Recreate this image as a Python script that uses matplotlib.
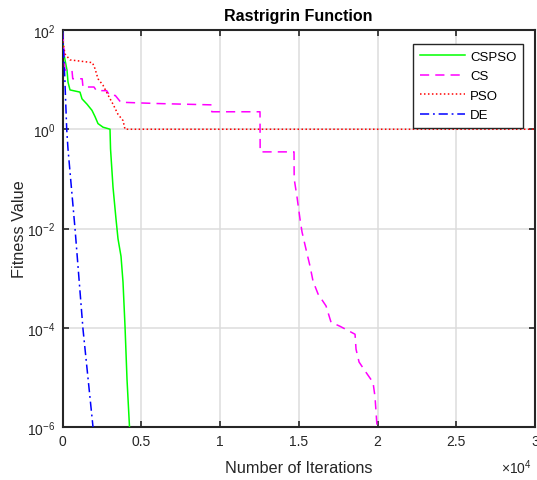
import matplotlib
matplotlib.use("Agg")
import matplotlib.pyplot as plt
import numpy as np

plt.rcParams['font.family'] = ['Liberation Sans', 'DejaVu Sans']
plt.rcParams['mathtext.default'] = 'regular'

# ---- data ----
cspso_iter = [0, 32, 159, 286, 350, 476, 1111, 1238, 1556, 1873, 2064, 2254, 2572, 2889, 3016,
              3050, 3207, 3397, 3524, 3715, 3842, 3969, 4096, 4254, 4300]
cspso_val = [100, 42, 25, 15.5, 8.9, 6.2, 5.6, 4.1, 3.2, 2.4, 1.8, 1.3, 1.1, 1.03, 1.0,
             0.4, 0.068, 0.0155, 0.0062, 0.00275, 0.00083, 0.000107, 0.0000091, 1e-6, 1e-7]

cs_iter = [0, 60, 150, 600, 650, 1250, 1300, 2000, 2150, 2800, 3000, 3350, 3700, 6000, 9475, 9480,
           12540, 12550, 14700, 14710, 14890, 15080, 15208, 15462, 15716, 15906, 16224, 16732,
           17050, 17621, 18574, 18637, 18828, 19272, 19717, 19844, 19971, 20000]
cs_val = [90, 57, 15.6, 15.6, 10.4, 10.4, 7.1, 7.1, 6.0, 6.0, 4.8, 4.8, 3.5, 3.3, 3.1, 2.25,
          2.25, 0.35, 0.35, 0.1, 0.043, 0.0155, 0.0085, 0.0038, 0.00174, 0.00087, 0.00048, 0.000275,
          0.000129, 0.000107, 0.000074, 0.000037, 0.0000204, 0.0000126, 0.0000079, 0.000004, 1e-6, 1e-7]

pso_iter = [0, 32, 159, 476, 1900, 2064, 2254, 2572, 2889, 3207, 3524, 3842, 3969, 30000]
pso_val = [100, 57, 33, 25, 22, 16.6, 10.4, 7.7, 4.9, 3.2, 2.0, 1.5, 1.0, 1.0]

de_iter = [0, 150, 267, 349, 794, 1302, 1937, 2000]
de_val = [100, 10, 1.0, 0.4, 0.01, 0.0000933, 1e-6, 1e-7]

xtick_vals = [0, 5000, 10000, 15000, 20000, 25000, 30000]
xtick_labels = ['0', '0.5', '1', '1.5', '2', '2.5', '3']
ytick_vals = [1e-6, 1e-4, 1e-2, 1e0, 1e2]
ytick_labels = ['$10^{-6}$', '$10^{-4}$', '$10^{-2}$', '$10^{0}$', '$10^{2}$']

W, H = 537, 481
fig = plt.figure(figsize=(W / 100, H / 100), dpi=100)
L, R, T, B = 62.5, 535, 31, 428
ax = fig.add_axes([L / W, (H - B) / H, (R - L) / W, (B - T) / H])

ax.plot(cspso_iter, cspso_val, color='#00ff00', lw=1.1, label='CSPSO', zorder=3)
ax.plot(cs_iter, cs_val, color='#ff00ff', lw=1.1, linestyle=(0, (6, 4)), label='CS', zorder=3)
ax.plot(pso_iter, pso_val, color='#ff0000', lw=1.1, linestyle=(0, (1, 1.6)), label='PSO', zorder=3)
ax.plot(de_iter, de_val, color='#0000ff', lw=1.1, linestyle=(0, (6, 2.5, 1.2, 2.5)), label='DE', zorder=3)

ax.set_yscale('log')
ax.set_xlim(0, 30000)
ax.set_ylim(1e-6, 1e2)
ax.set_xticks(xtick_vals)
ax.set_xticklabels(xtick_labels)
ax.set_yticks(ytick_vals)
ax.set_yticklabels(ytick_labels)
ax.yaxis.set_minor_locator(matplotlib.ticker.NullLocator())
ax.tick_params(direction='in', length=4, width=1.2, top=True, right=True,
               labelsize=10, colors='#262626', pad=5)
ax.grid(True, color='#dcdcdc', lw=1.1)
ax.set_axisbelow(True)
for s in ax.spines.values():
    s.set_linewidth(1.5)
    s.set_color('#262626')

ax.set_title('Rastrigrin Function', fontsize=11.5, fontweight='bold', pad=7)
ax.set_xlabel('Number of Iterations', fontsize=11.7, color='#262626', labelpad=9)
ax.set_ylabel('Fitness Value', fontsize=11.7, color='#262626', labelpad=0)

fig.text(532 / W, (H - 468) / H, r'$\times10^{4}$', ha='right', va='center', fontsize=10, color='#262626')

leg = ax.legend(loc='upper right', bbox_to_anchor=((523 - L) / (R - L), (B - 45) / (B - T)),
                borderaxespad=0, fontsize=9.5, handlelength=3.4, handletextpad=0.4,
                labelspacing=0.55, fancybox=False, framealpha=1, edgecolor='#262626',
                borderpad=0.5)
leg.get_frame().set_linewidth(1.0)

fig.savefig('out.png', dpi=100)
